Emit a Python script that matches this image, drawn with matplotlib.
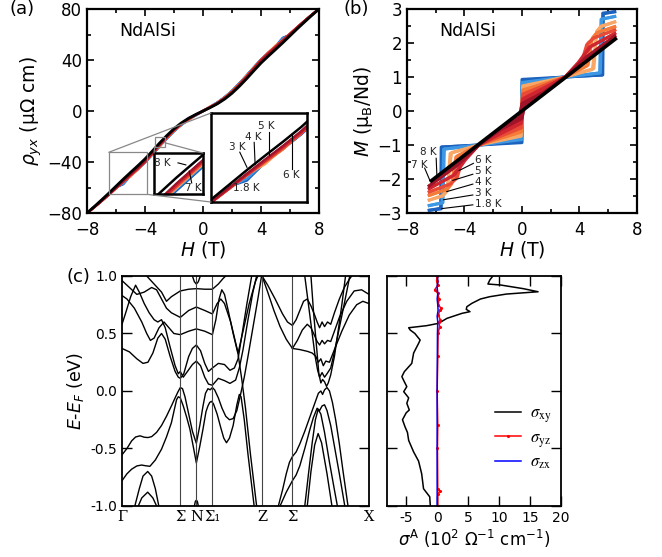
import numpy as np
import matplotlib.pyplot as plt
from matplotlib.patches import Rectangle, ConnectionPatch
from matplotlib.font_manager import FontProperties
from matplotlib.ticker import MultipleLocator

plt.rcParams['font.family'] = 'DejaVu Sans'
plt.rcParams['mathtext.fontset'] = 'dejavusans'

# ---------------- (a) Hall resistivity ----------------
H_a = [-8, -7.5, -7, -6.5, -6, -5.5, -5, -4.5, -4, -3.5, -3, -2.5, -2, -1.5, -1, -0.5,
       0, 0.5, 1, 1.5, 2, 2.5, 3, 3.5, 4, 4.5, 5, 5.5, 6, 6.5, 7, 7.5, 8]
rho_black = [-80, -75, -69.8, -64.5, -59, -53.5, -48.2, -43, -37.6, -31.5, -25.2, -19.3, -13.9,
             -9.4, -5.7, -2.7, 0, 2.7, 5.7, 9.4, 13.9, 19.3, 25.2, 31.5, 37.6, 43, 48.2, 53.5,
             59, 64.5, 69.8, 75, 80]
# deviation from the black curve, field-up sweep (down sweep is the mirror)
d_18K = [0, -0.3, -0.5, -0.6, -0.8, -3.6, -2.6, -2.7, -2.8, -2.8, -2.7, -2.4, -2.0, -1.6, -1.1, -0.6,
         0.3, 0.8, 1.2, 1.6, 2.0, 2.4, 2.7, 2.8, 2.8, 2.7, 2.6, 4.0, 0.8, 0.6, 0.5, 0.3, 0]
d_3K = [0, -0.3, -0.5, -0.7, -1.0, -3.1, -2.4, -2.5, -2.5, -2.5, -2.4, -2.1, -1.8, -1.4, -1.0, -0.5,
        0.2, 0.7, 1.0, 1.3, 1.7, 2.0, 2.3, 2.4, 2.5, 2.5, 2.4, 3.3, 1.0, 0.7, 0.5, 0.3, 0]
d_4K = [0, -0.4, -0.6, -0.9, -1.3, -1.8, -3.3, -2.4, -2.3, -2.3, -2.2, -1.9, -1.5, -1.1, -0.8, -0.4,
        0.1, 0.6, 0.9, 1.2, 1.5, 1.8, 2.1, 2.3, 2.3, 2.4, 3.0, 1.6, 1.2, 0.9, 0.6, 0.3, 0]
d_5K = [0, -0.5, -0.8, -1.1, -1.5, -2.0, -2.6, -3.0, -2.2, -2.1, -2.0, -1.7, -1.3, -1.0, -0.7, -0.3,
        0.1, 0.4, 0.8, 1.1, 1.4, 1.7, 2.0, 2.1, 2.2, 2.8, 2.4, 1.9, 1.4, 1.0, 0.7, 0.4, 0]
d_6K = [0, -0.6, -1.0, -1.3, -1.7, -2.1, -2.4, -2.6, -2.6, -2.0, -1.8, -1.5, -1.2, -0.9, -0.6, -0.2,
        0.1, 0.4, 0.7, 1.0, 1.3, 1.6, 1.9, 2.1, 2.5, 2.5, 2.3, 2.0, 1.6, 1.2, 0.8, 0.4, 0]
d_7K = [0, -0.5, -0.9, -1.2, -1.5, -1.8, -2.0, -2.1, -2.1, -1.9, -1.6, -1.3, -1.0, -0.8, -0.5, -0.3,
        0.0, 0.3, 0.5, 0.8, 1.0, 1.3, 1.6, 1.9, 2.1, 2.1, 2.0, 1.8, 1.5, 1.2, 0.9, 0.5, 0]
d_8K = [0, -0.4, -0.7, -0.9, -1.1, -1.3, -1.4, -1.5, -1.5, -1.4, -1.2, -1.0, -0.8, -0.6, -0.4, -0.2,
        0.0, 0.2, 0.4, 0.6, 0.8, 1.0, 1.2, 1.4, 1.5, 1.5, 1.4, 1.3, 1.1, 0.9, 0.7, 0.4, 0]

temps = ['1.8 K', '3 K', '4 K', '5 K', '6 K', '7 K', '8 K']
colors = ['#1c62bd', '#3d97e2', '#f9a766', '#f47b38', '#e94b36', '#cf2530', '#a01329']
rho_dev = [d_18K, d_3K, d_4K, d_5K, d_6K, d_7K, d_8K]

# ---------------- (b) magnetization (field-up branch) ----------------
H_18K = [-6.45, -5.62, -5.58, -3, 0.0, 0.06, 3, 5.62, 5.66, 6.45]
M_18K = [-2.92, -2.88, -1.06, -1.0, -0.93, 0.9, 1.0, 1.06, 2.86, 2.92]
H_3K = [-6.45, -5.5, -5.4, -3, 0, 0.08, 3, 5.45, 5.55, 6.45]
M_3K = [-2.78, -2.7, -1.12, -1.0, -0.84, 0.82, 1.0, 1.12, 2.7, 2.78]
H_4K = [-6.45, -5.5, -5.2, -5.0, -3, -0.05, 0.1, 3, 4.9, 5.2, 5.5, 6.45]
M_4K = [-2.62, -2.5, -2.35, -1.25, -1.0, -0.74, 0.7, 1.0, 1.22, 2.3, 2.48, 2.62]
H_5K = [-6.45, -5.2, -4.9, -4.6, -3, -0.05, 0.12, 3, 4.5, 4.85, 5.2, 6.45]
M_5K = [-2.48, -2.3, -2.15, -1.35, -1.0, -0.62, 0.58, 1.0, 1.32, 2.1, 2.3, 2.48]
H_6K = [-6.45, -5, -4.6, -4.2, -3, -0.05, 0.15, 3, 4.1, 4.5, 5, 6.45]
M_6K = [-2.38, -2.15, -2.0, -1.4, -1.0, -0.5, 0.45, 1.0, 1.38, 1.95, 2.15, 2.38]
H_7K = [-6.45, -4.8, -4.0, -3, -0.05, 0.15, 3, 3.9, 4.7, 6.45]
M_7K = [-2.28, -1.9, -1.45, -1.0, -0.36, 0.3, 1.0, 1.42, 1.88, 2.28]
H_8K = [-6.45, -4.5, -3, -1.5, 0, 0.2, 1.5, 3, 4.5, 6.45]
M_8K = [-2.2, -1.6, -1.0, -0.55, -0.22, 0.18, 0.52, 1.0, 1.58, 2.2]
H_bk = [-6.3, 6.5]
M_bk = [-2.05, 2.12]
H_b = [H_18K, H_3K, H_4K, H_5K, H_6K, H_7K, H_8K]
M_b = [M_18K, M_3K, M_4K, M_5K, M_6K, M_7K, M_8K]

# ---------------- (c) band structure ----------------
kpath_pos = [0, 0.236, 0.301, 0.366, 0.567, 0.690, 1.0]
kpath_lab = ['Γ', 'Σ', 'N', 'Σ₁', 'Z', 'Σ', 'X']

band_v1 = [(0, -0.555), (0.02, -0.5), (0.039, -0.434), (0.055, -0.4), (0.073, -0.39), (0.09, -0.402),
           (0.105, -0.405), (0.12, -0.397), (0.14, -0.36), (0.16, -0.3), (0.18, -0.22), (0.20, -0.13),
           (0.215, -0.06), (0.226, -0.01), (0.236, 0.03), (0.245, 0.02), (0.255, -0.05), (0.27, -0.2),
           (0.285, -0.35), (0.301, -0.455), (0.315, -0.3), (0.328, -0.13), (0.338, -0.02), (0.348, 0.02),
           (0.357, 0.01), (0.366, 0.03), (0.375, 0.01), (0.39, -0.06), (0.405, -0.15), (0.42, -0.22),
           (0.435, -0.25), (0.45, -0.24), (0.465, -0.17), (0.48, -0.03), (0.495, 0.12), (0.51, 0.3),
           (0.53, 0.55), (0.55, 0.8), (0.565, 1.0)]
band_v2 = [(0, -0.78), (0.02, -0.72), (0.039, -0.68), (0.06, -0.652), (0.079, -0.644), (0.095, -0.65),
           (0.113, -0.655), (0.135, -0.6), (0.16, -0.506), (0.18, -0.4), (0.20, -0.276), (0.212, -0.16),
           (0.221, -0.075), (0.228, -0.05), (0.236, -0.06), (0.248, -0.13), (0.262, -0.23), (0.275, -0.333),
           (0.29, -0.5), (0.301, -0.626), (0.315, -0.48), (0.328, -0.33), (0.34, -0.18), (0.348, -0.13),
           (0.355, -0.1), (0.362, -0.09), (0.37, -0.11), (0.385, -0.2), (0.40, -0.32), (0.412, -0.41),
           (0.423, -0.45), (0.435, -0.41), (0.45, -0.3), (0.465, -0.12), (0.475, -0.03), (0.482, -0.05),
           (0.495, -0.25), (0.51, -0.55), (0.525, -0.82), (0.535, -1.0)]
band_v3 = [(0.052, -1.0), (0.07, -0.85), (0.085, -0.74), (0.104, -0.7), (0.12, -0.74), (0.135, -0.85),
           (0.149, -1.0)]
band_v4 = [(0.066, -1.0), (0.08, -0.93), (0.104, -0.88), (0.125, -0.93), (0.14, -1.0)]
band_v5 = [(0.293, -1.0), (0.297, -0.96), (0.301, -0.95), (0.305, -0.96), (0.309, -1.0)]
band_v6 = [(0.633, -1.0), (0.65, -0.86), (0.665, -0.72), (0.678, -0.62), (0.69, -0.57), (0.705, -0.53),
           (0.72, -0.46), (0.74, -0.35), (0.76, -0.23), (0.78, -0.11), (0.795, -0.02), (0.805, 0.0),
           (0.812, -0.03), (0.82, 0.01), (0.83, 0.03), (0.84, 0.0), (0.852, -0.1), (0.865, -0.25),
           (0.88, -0.46), (0.895, -0.7), (0.915, -1.0)]
band_v7 = [(0.64, -1.0), (0.665, -0.88), (0.69, -0.78), (0.705, -0.73), (0.72, -0.65), (0.74, -0.5),
           (0.76, -0.34), (0.775, -0.23), (0.79, -0.15), (0.80, -0.17), (0.81, -0.13), (0.82, -0.12),
           (0.83, -0.17), (0.845, -0.3), (0.86, -0.48), (0.88, -0.72), (0.902, -1.0)]
band_v8 = [(0.74, -1.0), (0.755, -0.72), (0.77, -0.45), (0.783, -0.25), (0.794, -0.16), (0.805, -0.2),
           (0.82, -0.36), (0.84, -0.62), (0.86, -0.86), (0.872, -1.0)]
band_v9 = [(0.75, -1.0), (0.765, -0.7), (0.78, -0.47), (0.794, -0.37), (0.808, -0.45), (0.83, -0.72),
           (0.85, -1.0)]
band_c1 = [(0, 0.37), (0.03, 0.34), (0.06, 0.28), (0.085, 0.24), (0.105, 0.25), (0.125, 0.33),
           (0.145, 0.46), (0.16, 0.5), (0.175, 0.45), (0.195, 0.3), (0.215, 0.17), (0.228, 0.12),
           (0.236, 0.11), (0.25, 0.15), (0.27, 0.3), (0.285, 0.37), (0.301, 0.40), (0.318, 0.35),
           (0.335, 0.24), (0.35, 0.17), (0.366, 0.2), (0.39, 0.24), (0.415, 0.23), (0.437, 0.18),
           (0.455, 0.2), (0.47, 0.28), (0.485, 0.48), (0.505, 0.75), (0.525, 1.0)]
band_c2 = [(0, 0.58), (0.015, 0.68), (0.035, 0.82), (0.055, 0.92), (0.07, 0.86), (0.09, 0.76),
           (0.11, 0.68), (0.13, 0.62), (0.145, 0.6), (0.16, 0.62), (0.175, 0.55), (0.195, 0.38),
           (0.215, 0.22), (0.228, 0.15), (0.236, 0.17), (0.248, 0.12), (0.265, 0.17), (0.285, 0.23),
           (0.301, 0.26), (0.318, 0.22), (0.335, 0.12), (0.35, 0.06), (0.366, 0.05), (0.39, 0.11),
           (0.415, 0.09), (0.437, 0.066), (0.46, 0.095), (0.475, 0.2), (0.49, 0.36), (0.51, 0.62),
           (0.53, 0.86), (0.545, 1.0)]
band_c3 = [(0, 0.83), (0.02, 0.8), (0.05, 0.72), (0.08, 0.6), (0.1, 0.5), (0.115, 0.44), (0.13, 0.46),
           (0.15, 0.55), (0.17, 0.6), (0.19, 0.55), (0.21, 0.5), (0.236, 0.49), (0.27, 0.52), (0.301, 0.54),
           (0.335, 0.52), (0.366, 0.49), (0.38, 0.62), (0.393, 0.8), (0.404, 0.88), (0.415, 0.84),
           (0.43, 0.7), (0.45, 0.5), (0.47, 0.32), (0.485, 0.1), (0.5, -0.15), (0.52, -0.55), (0.545, -1.0)]
band_c4 = [(0, 0.96), (0.03, 0.9), (0.06, 0.84), (0.09, 0.86), (0.12, 0.9), (0.14, 0.88), (0.16, 0.8),
           (0.18, 0.72), (0.2, 0.68), (0.236, 0.64), (0.27, 0.7), (0.301, 0.73), (0.335, 0.7), (0.366, 0.67),
           (0.385, 0.76), (0.40, 0.8), (0.415, 0.76), (0.44, 0.6), (0.46, 0.42), (0.47, 0.33), (0.49, 0.52),
           (0.515, 0.76), (0.54, 0.95), (0.55, 1.0)]
band_c5 = [(0.1, 1.0), (0.13, 0.93), (0.16, 0.86), (0.18, 0.78), (0.2, 0.82), (0.236, 0.87), (0.27, 0.885),
           (0.301, 0.89), (0.335, 0.885), (0.366, 0.885), (0.39, 0.93), (0.41, 0.98), (0.42, 1.0)]
band_c6 = [(0.285, 1.0), (0.293, 0.95), (0.301, 0.93), (0.309, 0.95), (0.317, 1.0)]
band_c7 = [(0.567, 1.0), (0.59, 0.92), (0.62, 0.8), (0.65, 0.67), (0.67, 0.6), (0.69, 0.57), (0.705, 0.62),
           (0.72, 0.7), (0.735, 0.78), (0.75, 0.8), (0.765, 0.74), (0.78, 0.66), (0.79, 0.6), (0.80, 0.55),
           (0.81, 0.6), (0.82, 0.56), (0.832, 0.6), (0.845, 0.58), (0.86, 0.68), (0.88, 0.8), (0.9, 0.9),
           (0.92, 0.97), (0.93, 1.0)]
band_c8 = [(0.567, 1.0), (0.59, 0.86), (0.615, 0.7), (0.64, 0.56), (0.665, 0.45), (0.69, 0.37), (0.71, 0.44),
           (0.73, 0.53), (0.75, 0.58), (0.765, 0.55), (0.78, 0.48), (0.79, 0.43), (0.80, 0.4), (0.81, 0.44),
           (0.82, 0.41), (0.832, 0.44), (0.845, 0.43), (0.86, 0.52), (0.88, 0.64), (0.91, 0.78), (0.94, 0.87),
           (0.97, 0.88), (1.0, 0.84)]
band_c9 = [(0.69, 0.37), (0.72, 0.36), (0.75, 0.345), (0.77, 0.33), (0.785, 0.3), (0.795, 0.25), (0.805, 0.28),
           (0.815, 0.22), (0.825, 0.26), (0.84, 0.25), (0.86, 0.36), (0.89, 0.52), (0.92, 0.66), (0.95, 0.75),
           (0.975, 0.78), (1.0, 0.76)]
band_c10 = [(0.74, 1.0), (0.755, 0.75), (0.77, 0.5), (0.782, 0.3), (0.792, 0.18), (0.80, 0.12), (0.81, 0.16),
            (0.82, 0.12), (0.83, 0.15), (0.845, 0.2), (0.86, 0.34), (0.88, 0.55), (0.9, 0.76), (0.915, 0.92),
            (0.922, 1.0)]
band_c11 = [(0.765, 1.0), (0.775, 0.7), (0.787, 0.4), (0.797, 0.15), (0.805, 0.07), (0.812, 0.1), (0.82, 0.08),
            (0.828, 0.04), (0.835, 0.07), (0.845, 0.14), (0.86, 0.3), (0.875, 0.52), (0.89, 0.75), (0.905, 1.0)]
bands = [band_v1, band_v2, band_v3, band_v4, band_v5, band_v6, band_v7, band_v8, band_v9,
         band_c1, band_c2, band_c3, band_c4, band_c5, band_c6, band_c7, band_c8, band_c9, band_c10, band_c11]

# ---------------- (c) anomalous Hall conductivity ----------------
E_xy = [-1.0, -0.92, -0.85, -0.72, -0.61, -0.53, -0.43, -0.36, -0.31, -0.25, -0.19, -0.165, -0.107, -0.06,
        -0.006, 0.038, 0.08, 0.125, 0.168, 0.24, 0.33, 0.414, 0.443, 0.5, 0.53, 0.55, 0.568, 0.588, 0.632,
        0.675, 0.69, 0.71, 0.733, 0.762, 0.8, 0.82, 0.843, 0.863, 0.89, 0.922, 0.93, 0.965, 1.0]
s_xy = [-1.1, -1.2, -2.2, -2.5, -3.0, -3.8, -4.6, -4.8, -5.2, -5.6, -5.0, -4.5, -4.9, -4.6, -5.4, -4.9,
        -5.3, -5.7, -5.3, -4.1, -3.8, -3.0, -2.75, -3.6, -4.35, -4.6, -1.7, 0.2, 1.6, 4.0, 5.3, 4.7, 4.8,
        5.6, 7.0, 8.5, 11.2, 16.3, 13.9, 10.2, 8.2, 8.5, 9.0]
E_yz = [-1.0, -0.9, -0.87, -0.85, -0.5, -0.3, 0.0, 0.3, 0.5, 0.56, 0.6, 0.62, 0.66, 0.7, 0.72, 0.75,
        0.8, 0.85, 0.88, 0.92, 0.96, 1.0]
s_yz = [0.1, 0.1, 0.4, 0.1, 0.05, 0.1, 0.0, 0.1, 0.15, 0.4, 0.3, 0.5, 0.2, 0.4, 0.6, 0.2, 0.3, 0.1,
        -0.4, 0.1, -0.1, 0.0]
E_zx = [-1.0, -0.5, 0.0, 0.5, 0.6, 0.65, 0.7, 0.75, 0.8, 0.85, 0.9, 0.95, 1.0]
s_zx = [0.0, 0.0, 0.0, 0.05, 0.1, 0.0, 0.15, 0.1, 0.0, 0.1, 0.0, 0.1, 0.05]

# ======================================================
fig = plt.figure(figsize=(6.62, 5.57), dpi=100)


def style_ab(ax):
    ax.tick_params(which='both', direction='in', top=True, right=True, labelsize=12, width=1.2)
    ax.tick_params(which='major', length=5)
    ax.tick_params(which='minor', length=3)
    ax.tick_params(axis='x', pad=6)
    for s in ax.spines.values():
        s.set_linewidth(1.6)


# ---- (a)
ax_a = fig.add_axes([0.1314, 0.6176, 0.3505, 0.3662])
for d, c in zip(rho_dev, colors):
    up = np.array(rho_black) + np.array(d)
    down = -up[::-1]
    ax_a.plot(H_a, up, color=c, lw=1.6)
    ax_a.plot(H_a, down, color=c, lw=1.6)
ax_a.plot(H_a, rho_black, color='black', lw=2.0)
ax_a.set_xlim(-8, 8)
ax_a.set_ylim(-80, 80)
ax_a.xaxis.set_major_locator(MultipleLocator(4))
ax_a.xaxis.set_minor_locator(MultipleLocator(2))
ax_a.yaxis.set_major_locator(MultipleLocator(40))
ax_a.yaxis.set_minor_locator(MultipleLocator(20))
style_ab(ax_a)
ax_a.set_xlabel(r'$H$ (T)', fontsize=13.5, labelpad=0)
ax_a.set_ylabel(r'$\rho_{yx}$ (μΩ cm)', fontsize=13.5, labelpad=2)
ax_a.text(0.14, 0.87, 'NdAlSi', transform=ax_a.transAxes, fontsize=12.5)

# insets of (a)
zoom_regions = [((-3.33, -2.6), (-28.5, -20.1)), ((-6.5, -3.84), (-65.4, -32.4))]
inset_boxes = [[0.2326, 0.6517, 0.074, 0.0736], [0.3187, 0.6373, 0.145, 0.1598]]
insets = []
for (xl, yl), box in zip(zoom_regions, inset_boxes):
    axi = fig.add_axes(box)
    for d, c in zip(rho_dev, colors):
        up = np.array(rho_black) + np.array(d)
        axi.plot(H_a, up, color=c, lw=1.4)
        axi.plot(H_a, -up[::-1], color=c, lw=1.4)
    axi.plot(H_a, rho_black, color='black', lw=1.8)
    axi.set_xlim(*xl)
    axi.set_ylim(*yl)
    axi.set_xticks([])
    axi.set_yticks([])
    for s in axi.spines.values():
        s.set_linewidth(1.8)
    ax_a.add_patch(Rectangle((xl[0], yl[0]), xl[1] - xl[0], yl[1] - yl[0], fill=False,
                             edgecolor='#888888', lw=0.9, zorder=5))
    insets.append(axi)

conn = [((-3.33, -28.5), insets[0], (0, 1)), ((-2.6, -25.0), insets[0], (1, 1)),
        ((-6.5, -32.4), insets[1], (0, 1)), ((-3.84, -65.4), insets[1], (0, 0))]
for xyA, axi, xyB in conn:
    cp = ConnectionPatch(xyA=xyA, coordsA=ax_a.transData, xyB=xyB, coordsB=axi.transAxes,
                         color='#888888', lw=0.9)
    fig.add_artist(cp)

lab_kw = dict(fontsize=7.5, color='#222222', ha='center', va='center')
ins1 = insets[0]
ins1.text(0.16, 0.76, '8 K', transform=ins1.transAxes, **lab_kw)
ins1.plot([0.49, 0.65], [0.76, 0.71], transform=ins1.transAxes, color='black', lw=0.8)
ins1.text(0.8, 0.15, '7 K', transform=ins1.transAxes, **lab_kw)
ins1.plot([0.77, 0.72], [0.27, 0.56], transform=ins1.transAxes, color='black', lw=0.8)
ins2 = insets[1]
for txt, tp, lp in [('3 K', (0.27, 0.62), [(0.3, 0.56), (0.375, 0.39)]),
                    ('4 K', (0.44, 0.73), [(0.45, 0.67), (0.46, 0.42)]),
                    ('5 K', (0.58, 0.85), [(0.6, 0.79), (0.6, 0.53)]),
                    ('6 K', (0.84, 0.3), [(0.84, 0.37), (0.84, 0.75)])]:
    ins2.text(tp[0], tp[1], txt, transform=ins2.transAxes, **lab_kw)
    ins2.plot([lp[0][0], lp[1][0]], [lp[0][1], lp[1][1]], transform=ins2.transAxes, color='black', lw=0.8)
ins2.text(0.37, 0.16, '1.8 K', transform=ins2.transAxes, **lab_kw)

# ---- (b)
ax_b = fig.add_axes([0.6148, 0.6176, 0.3474, 0.3662])
for Hs, Ms, c in zip(H_b, M_b, colors):
    ax_b.plot(Hs, Ms, color=c, lw=2.2)
    ax_b.plot([-h for h in Hs[::-1]], [-m for m in Ms[::-1]], color=c, lw=2.2)
ax_b.plot(H_bk, M_bk, color='black', lw=2.6)
ax_b.set_xlim(-8, 8)
ax_b.set_ylim(-3, 3)
ax_b.xaxis.set_major_locator(MultipleLocator(4))
ax_b.xaxis.set_minor_locator(MultipleLocator(2))
ax_b.yaxis.set_major_locator(MultipleLocator(1))
ax_b.yaxis.set_minor_locator(MultipleLocator(0.5))
style_ab(ax_b)
ax_b.set_xlabel(r'$H$ (T)', fontsize=13.5, labelpad=0)
ax_b.set_ylabel(r'$M$ (μ$_{\rm B}$/Nd)', fontsize=13.5, labelpad=2)
ax_b.text(0.14, 0.87, 'NdAlSi', transform=ax_b.transAxes, fontsize=12.5)

b_labels = [('8 K', (-6.5, -1.22), (-5.97, -1.39), (-5.92, -1.91), 'center'),
            ('7 K', (-7.15, -1.59), (-6.77, -1.68), (-6.38, -2.07), 'center'),
            ('6 K', (-3.3, -1.44), (-3.38, -1.54), (-4.37, -1.75), 'left'),
            ('5 K', (-3.3, -1.76), (-3.42, -1.86), (-4.81, -2.04), 'left'),
            ('4 K', (-3.3, -2.1), (-3.42, -2.15), (-5.23, -2.37), 'left'),
            ('3 K', (-3.3, -2.42), (-3.42, -2.47), (-5.46, -2.61), 'left'),
            ('1.8 K', (-3.3, -2.73), (-3.42, -2.76), (-5.57, -2.87), 'left')]
for txt, tp, p1, p2, ha in b_labels:
    ax_b.text(tp[0], tp[1], txt, fontsize=7.5, color='#222222', ha=ha, va='center')
    ax_b.plot([p1[0], p2[0]], [p1[1], p2[1]], color='black', lw=0.8)

# ---- (c) bands
ax_c = fig.add_axes([0.1843, 0.0916, 0.3731, 0.4129])
for b in bands:
    k, e = zip(*b)
    ax_c.plot(k, e, color='black', lw=1.0)
for kp in kpath_pos[1:-1]:
    ax_c.axvline(kp, color='#444444', lw=0.8)
ax_c.set_xlim(0, 1)
ax_c.set_ylim(-1, 1)
ax_c.set_xticks(kpath_pos)
ax_c.set_xticklabels(kpath_lab, fontfamily='DejaVu Serif', fontsize=10.5)
ax_c.tick_params(axis='x', length=0, pad=3)
ax_c.set_yticks([-1, -0.5, 0, 0.5, 1])
ax_c.set_yticklabels(['-1.0', '-0.5', '0.0', '0.5', '1.0'])
ax_c.tick_params(axis='y', direction='in', left=True, right=True, length=7, width=1.0, labelsize=10)
for s in ax_c.spines.values():
    s.set_linewidth(1.3)
ax_c.set_ylabel(r'$E$-$E_F$ (eV)', fontsize=12.5, labelpad=3)

# ---- (c) AHC
ax_d = fig.add_axes([0.5846, 0.0916, 0.2628, 0.4129])
ax_d.plot(s_xy, E_xy, color='black', lw=1.1, label=r'$\sigma_{\rm xy}$')
ax_d.plot(s_yz, E_yz, color='red', lw=1.1, marker='.', ms=2.5, label=r'$\sigma_{\rm yz}$')
ax_d.plot(s_zx, E_zx, color='blue', lw=1.1, label=r'$\sigma_{\rm zx}$')
ax_d.set_xlim(-8.1, 20)
ax_d.set_ylim(-1, 1)
ax_d.set_xticks([-5, 0, 5, 10, 15, 20])
ax_d.set_xticklabels(['-5', '0', '5', '10', '15', '20'])
ax_d.set_yticks([-1, -0.5, 0, 0.5, 1])
ax_d.tick_params(axis='both', direction='in', left=True, right=True, top=True, length=7, width=1.0,
                 labelsize=10, labelleft=False)
for s in ax_d.spines.values():
    s.set_linewidth(1.3)
ax_d.set_xlabel(r'$\sigma^{\rm A}$ (10$^2$ Ω$^{-1}$ cm$^{-1}$)', fontsize=12, labelpad=2)
leg_font = FontProperties(family='DejaVu Serif', size=12, math_fontfamily='stix')
ax_d.legend(loc='upper left', bbox_to_anchor=(0.58, 0.47), frameon=False, prop=leg_font,
            handlelength=1.6, handletextpad=0.5, labelspacing=0.25, borderaxespad=0)

fig.text(0.033, 0.984, '(a)', fontsize=13, ha='center', va='center')
fig.text(0.538, 0.984, '(b)', fontsize=13, ha='center', va='center')
fig.text(0.118, 0.503, '(c)', fontsize=13, ha='center', va='center')

fig.savefig('out.png', dpi=100)
